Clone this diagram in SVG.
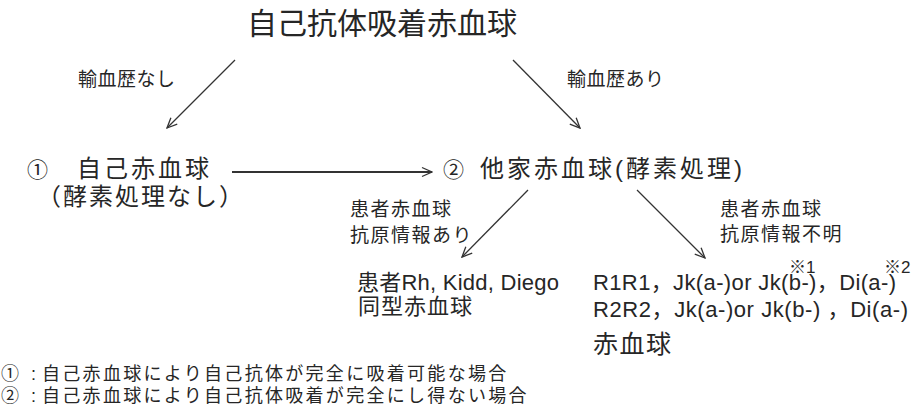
<svg xmlns="http://www.w3.org/2000/svg" width="917" height="416" viewBox="0 0 917 416">
<style>
text { font-family: "Liberation Sans", "Noto Sans CJK JP", sans-serif; fill: #262626; }
.jp { font-family: "Noto Sans CJK JP", sans-serif; }
.lbl { font-size: 19px; letter-spacing: 1.5px; }
.main { font-size: 22px; }
.big { font-size: 24px; }
.conn line { stroke: #333; stroke-width: 1.3; fill: none; marker-end: url(#ah); }
.note { font-size: 17px; }
.foot { font-size: 18px; }
</style>
<defs>
<marker id="ah" viewBox="0 0 12 12" refX="11" refY="6" markerWidth="12" markerHeight="12" markerUnits="userSpaceOnUse" orient="auto">
<path d="M1,1.5 L11,6 L1,10.5" fill="none" stroke="#333" stroke-width="1.3"/>
</marker>
</defs>
<rect width="917" height="416" fill="#ffffff"/>

<g id="title"><text class="jp" x="247" y="34" font-size="30">自己抗体吸着赤血球</text></g>

<g id="label-no-transfusion"><text class="jp lbl" x="78" y="86" style="letter-spacing:0.5px">輸血歴なし</text></g>
<g id="label-transfusion"><text class="jp lbl" x="567" y="86" style="letter-spacing:0.5px">輸血歴あり</text></g>

<g id="node-auto">
<text class="big" y="177"><tspan x="27" font-size="21">①</tspan><tspan x="77" letter-spacing="3">自己赤血球</tspan></text>
<text class="big jp" x="37" y="205" letter-spacing="2">（酵素処理なし）</text>
</g>

<g id="node-allo">
<text class="big" y="177"><tspan x="443" font-size="21">②</tspan><tspan x="480" letter-spacing="3">他家赤血球(酵素処理)</tspan></text>
</g>

<g id="label-known">
<text class="jp lbl" x="350" y="216">患者赤血球</text>
<text class="jp lbl" x="350" y="242">抗原情報あり</text>
</g>
<g id="label-unknown">
<text class="jp lbl" x="720" y="216">患者赤血球</text>
<text class="jp lbl" x="720" y="241">抗原情報不明</text>
</g>

<g id="node-same">
<text class="main" x="357" y="290" textLength="202" lengthAdjust="spacing">患者Rh, Kidd, Diego</text>
<text class="main jp" x="358" y="314" letter-spacing="1">同型赤血球</text>
</g>

<g id="node-selected">
<text class="note" x="789" y="273">※1</text>
<text class="note" x="884" y="273">※2</text>
<text class="main" x="593" y="290" textLength="303" lengthAdjust="spacing">R1R1，Jk(a-)or Jk(b-)，Di(a-)</text>
<text class="main" x="593" y="317" textLength="315" lengthAdjust="spacing">R2R2，Jk(a-)or Jk(b-) ，Di(a-)</text>
<text class="jp" x="593" y="353" font-size="25" letter-spacing="1.5">赤血球</text>
</g>

<g id="notes">
<text class="foot" y="380"><tspan x="1">①</tspan><tspan x="31">:</tspan><tspan x="42" letter-spacing="2.3">自己赤血球により自己抗体が完全に吸着可能な場合</tspan></text>
<text class="foot" y="402"><tspan x="1">②</tspan><tspan x="31">:</tspan><tspan x="42" letter-spacing="2.3">自己赤血球により自己抗体吸着が完全にし得ない場合</tspan></text>
</g>

<g id="connectors" class="conn">
<line x1="235" y1="60" x2="167" y2="128"/>
<line x1="513" y1="60" x2="580" y2="128"/>
<line x1="232" y1="172" x2="432" y2="172" style="stroke-width:1.8"/>
<line x1="528" y1="190" x2="462" y2="257"/>
<line x1="637" y1="190" x2="705" y2="258"/>
</g>
</svg>
